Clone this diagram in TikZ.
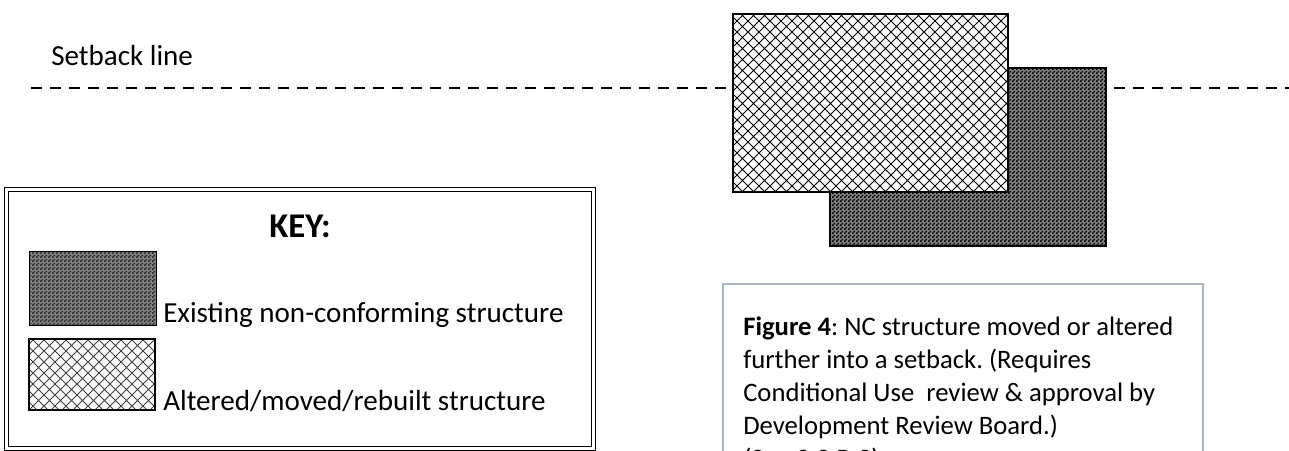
\documentclass[tikz,border=0pt]{standalone}
\usepackage{fontspec}
\setmainfont{Carlito}
\usetikzlibrary{patterns.meta}

\definecolor{capframe}{RGB}{168,182,206}

% diamond mesh for the altered/moved/rebuilt structure
\tikzdeclarepattern{
  name=meshx,
  parameters={/pgf/pattern keys/meshsize, /pgf/pattern keys/meshwidth},
  bounding box={(-0.6pt,-0.6pt) and
    (\pgfkeysvalueof{/pgf/pattern keys/meshsize}+0.6pt,
     \pgfkeysvalueof{/pgf/pattern keys/meshsize}+0.6pt)},
  tile size={(\pgfkeysvalueof{/pgf/pattern keys/meshsize},
    \pgfkeysvalueof{/pgf/pattern keys/meshsize})},
  defaults={meshsize/.initial=8pt, meshwidth/.initial=0.8pt},
  code={
    \draw[line width=\pgfkeysvalueof{/pgf/pattern keys/meshwidth}]
      (0pt,0pt) -- (\pgfkeysvalueof{/pgf/pattern keys/meshsize},\pgfkeysvalueof{/pgf/pattern keys/meshsize})
      (0pt,\pgfkeysvalueof{/pgf/pattern keys/meshsize}) -- (\pgfkeysvalueof{/pgf/pattern keys/meshsize},0pt);
  }
}

% fine checkerboard for the existing structure
\tikzdeclarepattern{
  name=checker,
  parameters={/pgf/pattern keys/checksize},
  bounding box={(0pt,0pt) and
    (\pgfkeysvalueof{/pgf/pattern keys/checksize},\pgfkeysvalueof{/pgf/pattern keys/checksize})},
  tile size={(\pgfkeysvalueof{/pgf/pattern keys/checksize},
    \pgfkeysvalueof{/pgf/pattern keys/checksize})},
  defaults={checksize/.initial=3pt},
  code={
    \pgfmathsetlengthmacro\checkhalf{\pgfkeysvalueof{/pgf/pattern keys/checksize}/2}
    \fill (0pt,0pt) rectangle (\checkhalf,\checkhalf)
          (\checkhalf,\checkhalf) rectangle (\pgfkeysvalueof{/pgf/pattern keys/checksize},\pgfkeysvalueof{/pgf/pattern keys/checksize});
  }
}

\tikzset{
  plain/.style={font=\fontsize{21.8}{24.75}\selectfont, inner sep=0pt},
  setback/.style={line width=1.5pt, dash pattern=on 8.25pt off 6pt},
  existing/.style={draw, line width=1.5pt, preaction={fill=black!50}, pattern={checker[checksize=3pt]}},
  altered/.style={draw, line width=1.5pt, preaction={fill=white}, pattern={meshx[meshsize=8.25pt, meshwidth=0.65pt]}},
  keyframe/.style={draw, line width=0.8pt, double, double distance=2.2pt},
}

\begin{document}
\begin{tikzpicture}[x=0.75pt,y=-0.75pt]
	\useasboundingbox (0,0) rectangle (1289,450);
	\clip (0,0) rectangle (1289,450);
	
	% setback line
	\node[plain,anchor=base west] (setbacklabel) at (51,65) {Setback line};
	\coordinate (setL) at (31,88);
	\coordinate (setR) at (1289,88);
	\draw[setback] (setL) -- (setR);
	
	% structures
	\draw[existing] (830,68) rectangle (1106,246);
	\draw[altered] (733,14) rectangle (1008,192);
	
	% key
	\draw[keyframe] (6.7,189.7) rectangle (593.5,448.5);
	\node[inner sep=0pt,anchor=base,font=\fontsize{26}{30}\selectfont\bfseries] (keytitle) at (300,237) {KEY:};
	\draw[line width=0.75pt, preaction={fill=black!50}, pattern={checker[checksize=2.25pt]}, pattern color=black!85] (29,251) rectangle (156,325);
	\draw[line width=1pt, pattern={meshx[meshsize=13.5pt, meshwidth=0.7pt]}, pattern color=black!75] (29,339) rectangle (155,410);
	\node[plain,anchor=base west] (existlabel) at (163,322) {Existing non-conforming structure};
	\node[plain,anchor=base west] (alterlabel) at (163,410) {Altered/moved/rebuilt structure};
	
	% caption
	\draw[capframe, line width=1.5pt] (723,284) rectangle (1203,480);
	\node[anchor=north west,align=left,inner sep=0pt,font=\fontsize{20}{24.75}\selectfont\frenchspacing] (caption) at (743,317) {\textbf{Figure 4}: NC structure moved or altered\\further into a setback. (Requires\\Conditional Use~ review \& approval by\\Development Review Board.)\\(See 3.3.B.3)};
\end{tikzpicture}
\end{document}
